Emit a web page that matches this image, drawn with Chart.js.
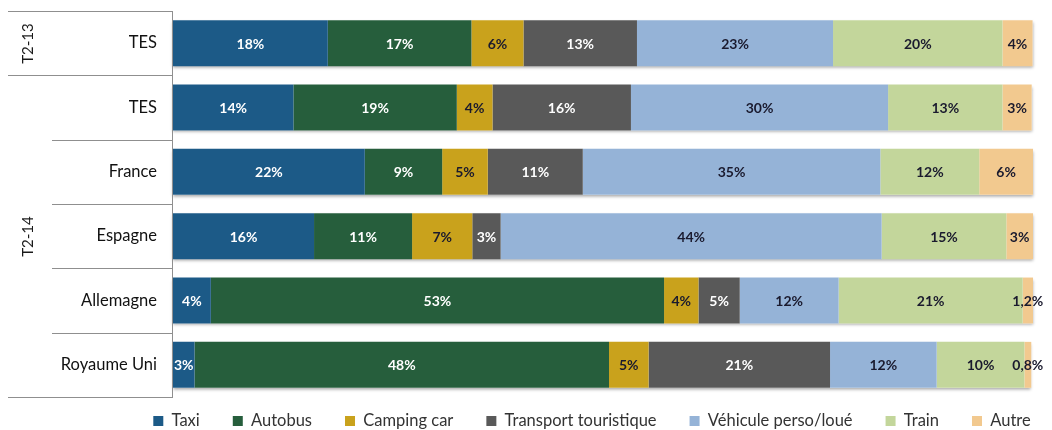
<!DOCTYPE html>
<html lang="fr">
	<head>
		<meta charset="UTF-8" />
		<title>Mode de transport</title>
		<script src="https://cdn.jsdelivr.net/npm/chart.js@4.4.3/dist/chart.umd.min.js"></script>
		<style>
			html,
			body {
				margin: 0;
				padding: 0;
				background: #fff;
			}
			.chartContainer {
				position: relative;
				width: 1052px;
				height: 430px;
			}
		</style>
	</head>
	<body>
		<div class="chartContainer">
			<canvas id="transportChart"></canvas>
		</div>

		<script>
			// data (share of each mode, in %)
			const categories = ["TES", "TES", "France", "Espagne", "Allemagne", "Royaume Uni"];
			const groupLabels = ["T2-13", "T2-14"];
			const groupSizes = [1, 5];
			const seriesNames = ["Taxi", "Autobus", "Camping car", "Transport touristique", "Véhicule perso/loué", "Train", "Autre"];

			const taxi = [18.0, 14.0, 22.3, 16.4, 4.4, 2.5];
			const autobus = [16.7, 19.0, 9.0, 11.4, 52.7, 48.2];
			const campingCar = [6.05, 4.15, 5.3, 7.0, 4.0, 4.6];
			const transportTouristique = [13.2, 16.1, 11.05, 3.3, 4.8, 21.1];
			const vehiculePerso = [22.8, 29.9, 34.6, 44.3, 11.5, 12.4];
			const train = [19.7, 13.3, 11.5, 14.5, 21.4, 10.2];
			const autre = [3.5, 3.4, 6.25, 3.1, 1.2, 0.8];

			const seriesValues = [taxi, autobus, campingCar, transportTouristique, vehiculePerso, train, autre];
			const barColors = ["#1c5a87", "#265e3c", "#c9a21c", "#595959", "#95b3d7", "#c3d69b", "#f2c98f"];
			const labelColors = ["#ffffff", "#ffffff", "#1a1a2e", "#ffffff", "#1a1a2e", "#1a1a2e", "#1a1a2e"];

			const fontFamily = "Lato, 'Open Sans', sans-serif";

			function formatPct(v) {
				if (v < 2) return v.toFixed(1).replace(".", ",") + "%";
				return Math.round(v) + "%";
			}

			// soft shadow under each full bar (Excel style)
			const barShadow = {
				id: "barShadow",
				beforeDatasetsDraw(chart) {
					const ctx = chart.ctx;
					const n = chart.data.datasets.length;
					const first = chart.getDatasetMeta(0).data;
					const last = chart.getDatasetMeta(n - 1).data;
					ctx.save();
					ctx.fillStyle = "#ffffff";
					ctx.shadowColor = "rgba(0,0,0,0.35)";
					ctx.shadowBlur = 3;
					ctx.shadowOffsetY = 2;
					first.forEach((bar, j) => {
						const a = bar.getProps(["base", "y", "height"], true);
						const b = last[j].getProps(["x"], true);
						ctx.fillRect(a.base, a.y - a.height / 2, b.x - a.base, a.height);
					});
					ctx.restore();
				},
			};

			// value labels in the middle of each segment
			const segmentLabels = {
				id: "segmentLabels",
				afterDatasetsDraw(chart) {
					const ctx = chart.ctx;
					ctx.save();
					ctx.font = "bold 14px " + fontFamily;
					ctx.textAlign = "center";
					ctx.textBaseline = "middle";
					chart.data.datasets.forEach((ds, i) => {
						const meta = chart.getDatasetMeta(i);
						ctx.fillStyle = labelColors[i];
						meta.data.forEach((bar, j) => {
							const p = bar.getProps(["x", "y", "base"], true);
							ctx.fillText(formatPct(ds.data[j]), (p.x + p.base) / 2, p.y + 1);
						});
					});
					ctx.restore();
				},
			};

			// table-like frame on the left with the period labels
			const leftFrame = {
				id: "leftFrame",
				afterDraw(chart) {
					const ctx = chart.ctx;
					const y = chart.scales.y;
					const left = chart.chartArea.left;
					const half = (y.getPixelForValue(1) - y.getPixelForValue(0)) / 2;
					const edge = (i) => Math.round(y.getPixelForValue(i) - half) + 0.5;

					ctx.save();
					ctx.strokeStyle = "#8f8f8f";
					ctx.lineWidth = 1;
					ctx.beginPath();
					let start = 0;
					const groupEdges = [0];
					groupSizes.forEach((n) => {
						start += n;
						groupEdges.push(start);
					});
					for (let i = 0; i <= categories.length; i++) {
						const x0 = groupEdges.includes(i) ? 8 : 52;
						ctx.moveTo(x0, edge(i));
						ctx.lineTo(left, edge(i));
					}
					ctx.moveTo(Math.round(left) - 0.5, edge(0));
					ctx.lineTo(Math.round(left) - 0.5, edge(categories.length));
					ctx.stroke();

					ctx.fillStyle = "#1a1a1a";
					ctx.font = "15px " + fontFamily;
					ctx.textAlign = "center";
					ctx.textBaseline = "middle";
					groupLabels.forEach((g, k) => {
						const yc = (edge(groupEdges[k]) + edge(groupEdges[k + 1])) / 2;
						ctx.save();
						ctx.translate(28, yc);
						ctx.rotate(-Math.PI / 2);
						ctx.fillText(g, 0, 0);
						ctx.restore();
					});
					ctx.restore();
				},
			};

			// keep the legend close under the bars, like the original
			const legendPlace = {
				id: "legendPlace",
				beforeInit(chart) {
					const legend = chart.legend;
					const fit = legend.fit;
					legend.fit = function () {
						fit.call(this);
						this.height = 33;
					};
					const draw = legend.draw;
					legend.draw = function () {
						const hb = this.legendHitBoxes;
						if (!hb || !hb.length) return draw.call(this);
						const last = hb[hb.length - 1];
						const dx = 592 - (hb[0].left + last.left + last.width) / 2;
						const dy = 421 - (hb[0].top + hb[0].height / 2);
						const box = { left: this.left, right: this.right, top: this.top, bottom: this.bottom };
						this.left += dx;
						this.right += dx;
						this.top += dy;
						this.bottom = this.chart.height;
						draw.call(this);
						Object.assign(this, box);
					};
				},
			};

			const ctx = document.getElementById("transportChart").getContext("2d");
			const transportChart = new Chart(ctx, {
				type: "bar",
				data: {
					labels: categories,
					datasets: seriesNames.map((name, i) => ({
						label: name,
						data: seriesValues[i],
						backgroundColor: barColors[i],
						borderWidth: 0,
						barPercentage: 0.714,
						categoryPercentage: 1,
					})),
				},
				options: {
					indexAxis: "y",
					responsive: true,
					maintainAspectRatio: false,
					animation: false,
					layout: {
						padding: { top: 11, right: 19, left: 0, bottom: 0 },
					},
					scales: {
						x: {
							stacked: true,
							min: 0,
							max: 100,
							display: false,
						},
						y: {
							stacked: true,
							grid: { display: false, drawTicks: false },
							border: { display: false },
							ticks: {
								color: "#111",
								font: { family: fontFamily, size: 16.5 },
								padding: 16,
							},
							afterFit(scale) {
								scale.width = 173;
								scale.paddingTop = 0;
								scale.paddingBottom = 0;
							},
						},
					},
					plugins: {
						legend: {
							position: "bottom",
							labels: {
								boxWidth: 10,
								boxHeight: 10,
								padding: 33,
								color: "#333",
								font: { family: fontFamily, size: 16.5 },
							},
						},
						tooltip: { enabled: false },
					},
				},
				plugins: [barShadow, segmentLabels, leftFrame, legendPlace],
			});
		</script>
	</body>
</html>
